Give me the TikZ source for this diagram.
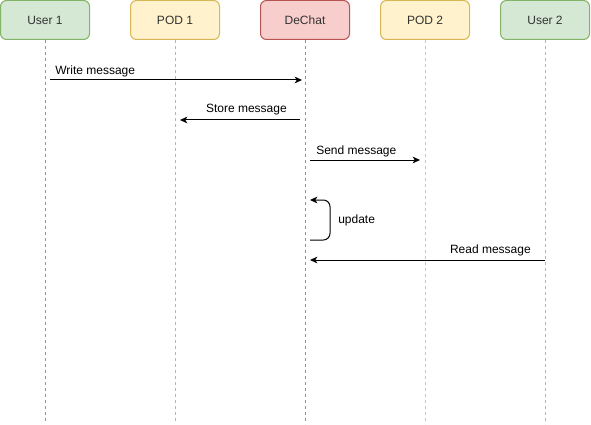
\documentclass[tikz,border=0pt]{standalone}
\usepackage{fontspec}
\setmainfont{Liberation Sans}
\usetikzlibrary{arrows.meta}
\definecolor{gfill}{HTML}{D5E8D4}
\definecolor{gline}{HTML}{82B366}
\definecolor{yfill}{HTML}{FFF2CC}
\definecolor{yline}{HTML}{D6B656}
\definecolor{rfill}{HTML}{F8CECC}
\definecolor{rline}{HTML}{B85450}
\definecolor{txt}{HTML}{333333}
\begin{document}
\begin{tikzpicture}[x=0.75pt,y=-0.75pt,
  actorbox/.style={draw, line width=0.75pt, rounded corners=4.5pt,
    minimum width=66.75pt, minimum height=29.25pt, inner sep=0pt,
    text=txt, font=\fontsize{9}{11}\selectfont},
  lifeline/.style={line width=0.75pt, dash pattern=on 2.25pt off 2.25pt},
  msg/.style={line width=0.75pt, -{Stealth[length=5.5pt,width=5pt,inset=1.5pt]}},
  msglabel/.style={font=\fontsize{9}{11}\selectfont, text=black, inner sep=0pt}]
\useasboundingbox (0,0) rectangle (591,424);
% actor boxes
\node[actorbox, fill=gfill, draw=gline] (u1) at (45,20) {User 1};
\node[actorbox, fill=yfill, draw=yline] (p1) at (175,20) {POD 1};
\node[actorbox, fill=rfill, draw=rline] (dc) at (305,20) {DeChat};
\node[actorbox, fill=yfill, draw=yline] (p2) at (425,20) {POD 2};
\node[actorbox, fill=gfill, draw=gline] (u2) at (545,20) {User 2};
% lifeline ends
\coordinate (u1e) at (45,421);
\coordinate (p1e) at (175,421);
\coordinate (dce) at (305,424);
\coordinate (p2e) at (425,424);
\coordinate (u2e) at (545,424);
\draw[lifeline, draw=gline!70!gray] (u1.south) -- (u1e);
\draw[lifeline, draw=yline] (p1.south) -- (p1e);
\draw[lifeline, draw=rline!80] (dc.south) -- (dce);
\draw[lifeline, draw=yline!75] (p2.south) -- (p2e);
\draw[lifeline, draw=gline!75] (u2.south) -- (u2e);
% message endpoints
\coordinate (w1) at (50,80);   \coordinate (w2) at (302,80);
\coordinate (s1) at (300,120); \coordinate (s2) at (180,120);
\coordinate (n1) at (310,160); \coordinate (n2) at (420,160);
\coordinate (l1) at (310,240); \coordinate (l2) at (330,220); \coordinate (l3) at (310,200);
\coordinate (r1) at (545,260); \coordinate (r2) at (310,260);
% messages
\draw[msg] (w1) -- (w2);
\node[msglabel, anchor=west] (wl) at (55,71) {Write message};
\draw[msg] (s1) -- (s2);
\node[msglabel, anchor=east] (sl) at (287,110) {Store message};
\draw[msg] (n1) -- (n2);
\node[msglabel, anchor=west] (nl) at (316,151) {Send message};
\draw[msg, rounded corners=5pt] (l1) -| (l2) |- (l3);
\node[msglabel, anchor=west] (ll) at (338,220) {update};
\draw[msg] (r1) -- (r2);
\node[msglabel, anchor=east] (rl) at (531,250) {Read message};
\end{tikzpicture}
\end{document}
